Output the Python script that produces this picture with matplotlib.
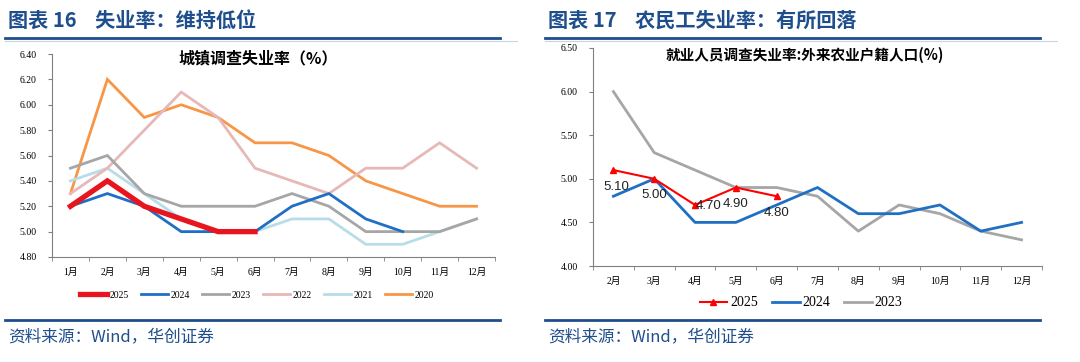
import numpy as np
import matplotlib
import matplotlib.pyplot as plt
from matplotlib.lines import Line2D

matplotlib.use("Agg")

plt.rcParams["font.family"] = ["Noto Sans CJK SC", "DejaVu Sans"]

# ── 数据 ─────────────────────────────────────────────
months_l = ["1月", "2月", "3月", "4月", "5月", "6月", "7月", "8月", "9月", "10月", "11月", "12月"]
u2025 = [5.2, 5.4, 5.2, 5.1, 5.0, 5.0]
u2024 = [5.2, 5.3, 5.2, 5.0, 5.0, 5.0, 5.2, 5.3, 5.1, 5.0]
u2023 = [5.5, 5.6, 5.3, 5.2, 5.2, 5.2, 5.3, 5.2, 5.0, 5.0, 5.0, 5.1]
u2022 = [5.3, 5.5, 5.8, 6.1, 5.9, 5.5, 5.4, 5.3, 5.5, 5.5, 5.7, 5.5]
u2021 = [5.4, 5.5, 5.3, 5.1, 5.0, 5.0, 5.1, 5.1, 4.9, 4.9, 5.0, 5.1]
u2020 = [5.3, 6.2, 5.9, 6.0, 5.9, 5.7, 5.7, 5.6, 5.4, 5.3, 5.2, 5.2]

months_r = ["2月", "3月", "4月", "5月", "6月", "7月", "8月", "9月", "10月", "11月", "12月"]
m2025 = [5.1, 5.0, 4.7, 4.9, 4.8]
m2024 = [4.8, 5.0, 4.5, 4.5, 4.7, 4.9, 4.6, 4.6, 4.7, 4.4, 4.5]
m2023 = [6.0, 5.3, 5.1, 4.9, 4.9, 4.8, 4.4, 4.7, 4.6, 4.4, 4.3]

NAVY = "#1f4e8c"
SERIF = ["Liberation Serif", "Noto Sans CJK SC"]

fig = plt.figure(figsize=(10.8, 3.62), dpi=100)


def fy(px):
    return 1 - px / 362


def fx(px):
    return px / 1080


def style_axes(ax, labels, ylim, yticks):
    n = len(labels)
    ax.set_xlim(-0.5, n - 0.5)
    ax.set_ylim(*ylim)
    ax.set_yticks(yticks)
    ax.set_yticklabels([f"{v:.2f}" for v in yticks], family=SERIF, fontsize=7)
    ax.set_xticks(range(n))
    ax.set_xticklabels(labels, family=SERIF, fontsize=7)
    ax.set_xticks(np.arange(-0.5, n, 1.0), minor=True)
    ax.tick_params(axis="x", which="major", length=0, pad=8)
    ax.tick_params(axis="x", which="minor", length=3, color="#808080")
    ax.tick_params(axis="y", length=3, color="#808080", pad=8)
    for s in ("top", "right"):
        ax.spines[s].set_visible(False)
    for s in ("left", "bottom"):
        ax.spines[s].set_color("#808080")
        ax.spines[s].set_linewidth(0.8)


# ── 顶部标题与分隔线 ─────────────────────────────────
for x0, x1, title in [(5, 500, "图表 16    失业率：维持低位"),
                      (545, 1040, "图表 17    农民工失业率：有所回落")]:
    fig.text(fx(x0 + 3), fy(20), title, color=NAVY, fontsize=14.5, fontweight="bold", va="center")
    fig.add_artist(Line2D([fx(x0), fx(x1)], [fy(38), fy(38)], color=NAVY, lw=2))
    fig.add_artist(Line2D([fx(x0), fx(x1)], [fy(320), fy(320)], color=NAVY, lw=2))
    fig.text(fx(x0 + 3), fy(337), "资料来源：Wind，华创证券", color=NAVY, fontsize=12,
             style="italic", va="center")

fig.add_artist(Line2D([fx(5), fx(517)], [fy(40.5), fy(40.5)], color="#c8d4e3", lw=0.8))
fig.add_artist(Line2D([fx(545), fx(1057)], [fy(40.5), fy(40.5)], color="#c8d4e3", lw=0.8))

# ── 左图：城镇调查失业率 ─────────────────────────────
ax1 = fig.add_axes([fx(52), fy(257), fx(495 - 52), (257 - 54) / 362])
x = np.arange(len(months_l))
series_l = [
    ("2020", u2020, "#f79646", 2.0),
    ("2021", u2021, "#b7dde8", 2.0),
    ("2022", u2022, "#e6b9b8", 2.0),
    ("2023", u2023, "#a6a6a6", 2.0),
    ("2024", u2024, "#1f6fc5", 2.0),
    ("2025", u2025, "#e8141e", 3.8),
]
handles = {}
for name, vals, c, lw in series_l:
    (h,) = ax1.plot(x[:len(vals)], vals, color=c, lw=lw, solid_joinstyle="miter")
    handles[name] = h
style_axes(ax1, months_l, (4.8, 6.4), np.arange(4.8, 6.41, 0.2))
fig.text(fx(258), fy(58), "城镇调查失业率（%）", fontsize=11.5, fontweight="bold",
         ha="center", va="center")
order = ["2025", "2024", "2023", "2022", "2021", "2020"]
fig.legend([handles[k] for k in order], order, loc="center", bbox_to_anchor=(fx(257), fy(295)),
           ncol=6, frameon=False, prop={"family": SERIF, "size": 7}, handlelength=2.8,
           columnspacing=1.2, handletextpad=0.3)

# ── 右图：外来农业户籍人口失业率 ─────────────────────
ax2 = fig.add_axes([fx(593), fy(266), fx(1042 - 593), (266 - 48) / 362])
xr = np.arange(len(months_r))
(h23,) = ax2.plot(xr, m2023, color="#a6a6a6", lw=2)
(h24,) = ax2.plot(xr, m2024, color="#1f6fc5", lw=2)
(h25,) = ax2.plot(xr[:len(m2025)], m2025, color="#ff0000", lw=1.5, marker="^", markersize=5)
label_offsets = [(2, -12), (0, -12), (9.5, -1), (0, -12), (0, -12)]
for xi, v, off in zip(xr, m2025, label_offsets):
    ax2.annotate(f"{v:.2f}", (xi, v), xytext=off, textcoords="offset points",
                 ha="center", va="center", fontsize=9.5, family="Liberation Sans", color="#222222")
style_axes(ax2, months_r, (4.0, 6.5), np.arange(4.0, 6.51, 0.5))
fig.text(fx(805), fy(55), "就业人员调查失业率:外来农业户籍人口(%)", fontsize=10.5, fontweight="bold",
         ha="center", va="center")
fig.legend([h25, h24, h23], ["2025", "2024", "2023"], loc="center", bbox_to_anchor=(fx(801), fy(303)),
           ncol=3, frameon=False, prop={"family": SERIF, "size": 10}, handlelength=2.0,
           columnspacing=1.0, handletextpad=0.2)

fig.savefig("out.png", dpi=100)
